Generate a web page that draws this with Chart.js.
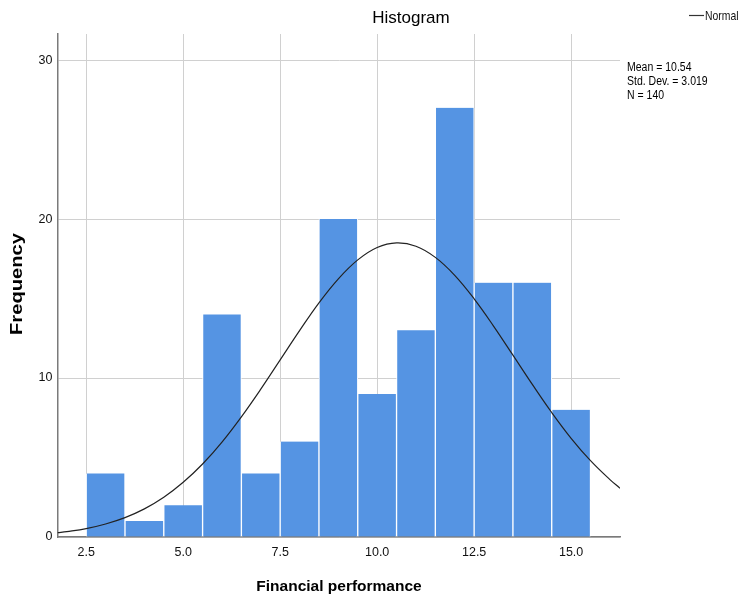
<!DOCTYPE html>
<html>
<head>
<meta charset="utf-8">
<script src="https://cdn.jsdelivr.net/npm/chart.js@4/dist/chart.umd.min.js"></script>
<style>
html,body{margin:0;padding:0;background:#fff;}
#wrap{width:744px;height:600px;position:relative;}
</style>
</head>
<body>
<div id="wrap"><canvas id="c" width="744" height="600"></canvas></div>
<script>
// Histogram bins (centres) and frequencies
const binCenters = [3, 4, 5, 6, 7, 8, 9, 10, 11, 12, 13, 14, 15];
const frequencies = [4, 1, 2, 14, 4, 6, 20, 9, 13, 27, 16, 16, 8];
// Normal curve points
const curveX = [1.76, 2.0, 2.5, 3.0, 3.5, 4.0, 4.5, 5.0, 5.5, 6.0, 6.5, 7.0, 7.5, 8.0, 8.5, 9.0, 9.5, 10.0, 10.5, 11.0, 11.5, 12.0, 12.5, 13.0, 13.5, 14.0, 14.5, 15.0, 15.5, 16.0, 16.26];
const curveY = [0.27, 0.34, 0.53, 0.82, 1.22, 1.77, 2.50, 3.44, 4.59, 5.97, 7.56, 9.30, 11.14, 12.98, 14.73, 16.24, 17.43, 18.21, 18.50, 18.29, 17.59, 16.46, 14.98, 13.27, 11.44, 9.60, 7.83, 6.21, 4.80, 3.61, 3.07];
const xTickValues = [2.5, 5.0, 7.5, 10.0, 12.5, 15.0];
const xTickLabels = ['2.5', '5.0', '7.5', '10.0', '12.5', '15.0'];
const yTickValues = [0, 10, 20, 30];
const yTickLabels = ['0', '10', '20', '30'];
const statsLines = ['Mean = 10.54', 'Std. Dev. = 3.019', 'N = 140'];
const chartTitle = 'Histogram';
const xTitle = 'Financial performance';
const yTitle = 'Frequency';
const legendLabel = 'Normal';

const SANS = "'Liberation Sans', Arial, sans-serif";

const overlay = {
  id: 'overlay',
  afterDraw(chart) {
    const ctx = chart.ctx;
    ctx.save();
    ctx.fillStyle = '#000';
    ctx.textBaseline = 'middle';
    // title
    ctx.font = "17px " + SANS;
    ctx.textAlign = 'center';
    ctx.fillText(chartTitle, 411, 18);
    // legend
    ctx.strokeStyle = '#333';
    ctx.lineWidth = 1.2;
    ctx.beginPath();
    ctx.moveTo(689, 15.5);
    ctx.lineTo(704, 15.5);
    ctx.stroke();
    ctx.textAlign = 'left';
    ctx.fillStyle = '#111';
    ctx.font = "13px " + SANS;
    ctx.save();
    ctx.translate(705, 16);
    ctx.scale(0.8, 1);
    ctx.fillText(legendLabel, 0, 0);
    ctx.restore();
    // stats (condensed)
    ctx.fillStyle = '#000';
    ctx.font = "12.5px " + SANS;
    statsLines.forEach((s, i) => {
      ctx.save();
      ctx.translate(627, 67 + i * 14);
      ctx.scale(0.84, 1.05);
      ctx.fillText(s, 0, 0);
      ctx.restore();
    });
    // x title
    ctx.font = "bold 15.5px " + SANS;
    ctx.textAlign = 'center';
    ctx.fillText(xTitle, 339, 587);
    // y title (stretched)
    ctx.font = "bold 16px " + SANS;
    const w = ctx.measureText(yTitle).width;
    ctx.translate(18, 284);
    ctx.rotate(-Math.PI / 2);
    ctx.scale(102 / w, 1);
    ctx.fillText(yTitle, 0, 0);
    ctx.restore();
  }
};

new Chart(document.getElementById('c'), {
  type: 'bar',
  data: {
    datasets: [
      {
        type: 'line',
        label: legendLabel,
        data: curveX.map((x, i) => ({x: x, y: curveY[i]})),
        borderColor: '#222',
        borderWidth: 1.2,
        pointRadius: 0,
        tension: 0.4,
        fill: false,
        order: 0
      },
      {
        type: 'bar',
        label: 'Frequency',
        data: binCenters.map((x, i) => ({x: x, y: frequencies[i]})),
        backgroundColor: 'rgb(85,148,227)',
        borderColor: '#ffffff',
        borderWidth: {left: 1, right: 1, top: 0, bottom: 0},
        borderSkipped: false,
        barPercentage: 1.0,
        categoryPercentage: 1.0,
        order: 1
      }
    ]
  },
  options: {
    responsive: false,
    animation: false,
    events: [],
    layout: {padding: {left: 0, right: 124, top: 34, bottom: 0}},
    plugins: {legend: {display: false}, tooltip: {enabled: false}, title: {display: false}},
    scales: {
      x: {
        type: 'linear',
        min: 1.76,
        max: 16.26,
        offset: false,
        afterBuildTicks: s => { s.ticks = xTickValues.map(v => ({value: v})); },
        afterFit: s => { s.height = 63; },
        ticks: {
          callback: (v) => { const i = xTickValues.indexOf(v); return i >= 0 ? xTickLabels[i] : ''; },
          font: {family: SANS, size: 12.5},
          color: '#111',
          padding: 8,
          maxRotation: 0,
          autoSkip: false
        },
        grid: {color: '#d0d0d0', lineWidth: 1, drawTicks: false, offset: false},
        border: {display: true, color: '#7a7a7a', width: 1.5}
      },
      y: {
        min: 0,
        max: 31.64,
        afterBuildTicks: s => { s.ticks = yTickValues.map(v => ({value: v})); },
        afterFit: s => { s.width = 57.5; },
        ticks: {
          callback: (v) => { const i = yTickValues.indexOf(v); return i >= 0 ? yTickLabels[i] : ''; },
          font: {family: SANS, size: 12.5},
          color: '#111',
          padding: 5,
          autoSkip: false
        },
        grid: {color: '#d0d0d0', lineWidth: 1, drawTicks: false},
        border: {display: true, color: '#7a7a7a', width: 1.5}
      }
    }
  },
  plugins: [overlay]
});
</script>
</body>
</html>
